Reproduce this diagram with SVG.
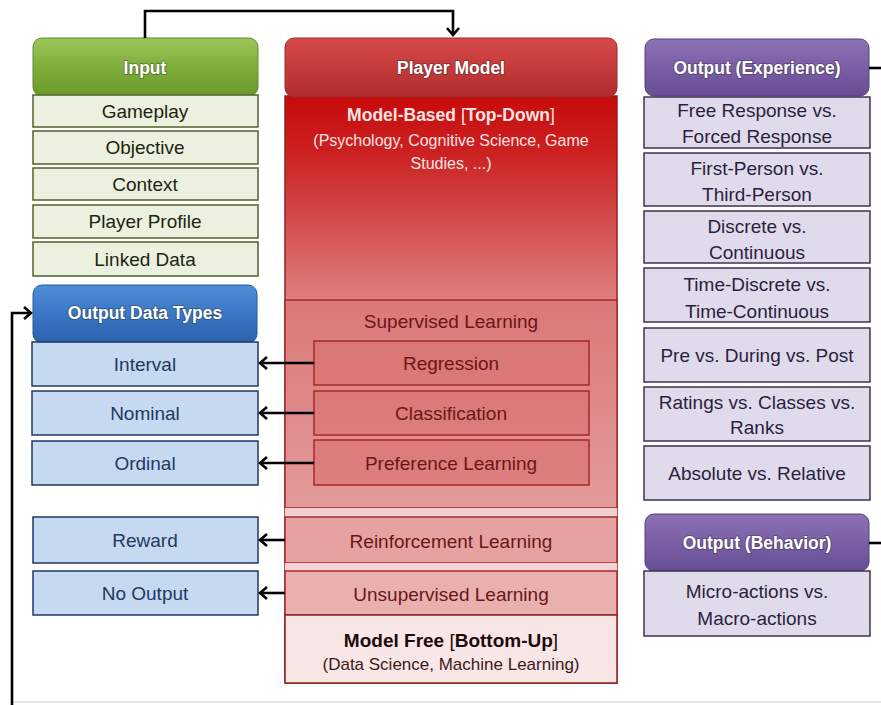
<svg xmlns="http://www.w3.org/2000/svg" width="881" height="705" viewBox="0 0 881 705">
<defs>
<linearGradient id="gGreen" x1="0" y1="0" x2="0" y2="1">
<stop offset="0" stop-color="#9cc65a"/><stop offset="0.5" stop-color="#7fae3c"/><stop offset="1" stop-color="#6a9a2c"/>
</linearGradient>
<linearGradient id="gRed" x1="0" y1="0" x2="0" y2="1">
<stop offset="0" stop-color="#d84a4a"/><stop offset="0.5" stop-color="#c43a3a"/><stop offset="1" stop-color="#b02e2e"/>
</linearGradient>
<linearGradient id="gBlue" x1="0" y1="0" x2="0" y2="1">
<stop offset="0" stop-color="#4f8fd8"/><stop offset="0.5" stop-color="#3a76c4"/><stop offset="1" stop-color="#2b62ad"/>
</linearGradient>
<linearGradient id="gPurple" x1="0" y1="0" x2="0" y2="1">
<stop offset="0" stop-color="#8e72b4"/><stop offset="0.5" stop-color="#7a5ea6"/><stop offset="1" stop-color="#674e94"/>
</linearGradient>
<linearGradient id="gBody" x1="0" y1="0" x2="0" y2="1">
<stop offset="0" stop-color="#c80a0a"/><stop offset="0.1" stop-color="#cc2222"/><stop offset="0.35" stop-color="#df8080"/><stop offset="1" stop-color="#e49090"/>
</linearGradient>
<linearGradient id="gSup" x1="0" y1="0" x2="0" y2="1">
<stop offset="0" stop-color="#da7878"/><stop offset="1" stop-color="#e39a9a"/>
</linearGradient>
<marker id="arr" viewBox="0 0 14 14" refX="11" refY="7" markerWidth="14" markerHeight="14" markerUnits="userSpaceOnUse" orient="auto">
<path d="M4,1 L11,7 L4,13" fill="none" stroke="#000" stroke-width="2.6"/>
</marker>
</defs>
<style>
text{font-family:"Liberation Sans",Arial,sans-serif;font-size:19px;text-anchor:middle}
.hd{font-weight:bold;font-size:17.5px;fill:#fff;stroke:rgba(40,40,40,0.35);stroke-width:2;paint-order:stroke}
.gi{fill:#ebf1de;stroke:#4f6228;stroke-width:1.5}
.gt{fill:#1d2410}
.bi{fill:#c6d9f1;stroke:#1f3864;stroke-width:1.5}
.bt{fill:#1f3864}
.pi{fill:#e0dbeb;stroke:#3f3151;stroke-width:1.5}
.pt{fill:#2a1f3d}
.rb{stroke:#a52a2a;stroke-width:1.5}
.rt{fill:#6b1616}
.wt{fill:#fbe3e3}
.cn{fill:none;stroke:#000;stroke-width:2.6}
</style>

<rect x="12" y="701" width="869" height="2" fill="#e6e6e6"/>

<g id="input">
<rect x="33" y="38" width="225" height="58" rx="9" fill="url(#gGreen)" stroke="#5d8a2a" stroke-width="1"/>
<text class="hd" x="145" y="74">Input</text>
<rect class="gi" x="33" y="95" width="225" height="32"/><text class="gt" x="145" y="118">Gameplay</text>
<rect class="gi" x="33" y="131" width="225" height="33"/><text class="gt" x="145" y="154">Objective</text>
<rect class="gi" x="33" y="168" width="225" height="32"/><text class="gt" x="145" y="191">Context</text>
<rect class="gi" x="33" y="205" width="225" height="33"/><text class="gt" x="145" y="228">Player Profile</text>
<rect class="gi" x="33" y="242" width="225" height="34"/><text class="gt" x="145" y="266">Linked Data</text>
</g>

<g id="output-data-types">
<rect x="33" y="285" width="224" height="58" rx="9" fill="url(#gBlue)" stroke="#245a9e" stroke-width="1"/>
<text class="hd" x="145" y="319">Output Data Types</text>
<rect class="bi" x="32" y="342" width="226" height="44"/><text class="bt" x="145" y="371">Interval</text>
<rect class="bi" x="32" y="391" width="226" height="44"/><text class="bt" x="145" y="420">Nominal</text>
<rect class="bi" x="32" y="441" width="226" height="44"/><text class="bt" x="145" y="470">Ordinal</text>
<rect class="bi" x="33" y="517" width="225" height="46"/><text class="bt" x="145" y="547">Reward</text>
<rect class="bi" x="33" y="571" width="225" height="44"/><text class="bt" x="145" y="600">No Output</text>
</g>

<g id="player-model">
<rect x="285" y="96" width="332" height="587" fill="url(#gBody)" stroke="#8b2323" stroke-width="1.5"/>
<rect x="285" y="38" width="332" height="59" rx="9" fill="url(#gRed)" stroke="#9c2a2a" stroke-width="1"/>
<text class="hd" x="451" y="74">Player Model</text>
<text class="wt" x="451" y="121" style="font-size:17.5px"><tspan font-weight="bold">Model-Based </tspan><tspan>[</tspan><tspan font-weight="bold">Top-Down</tspan><tspan>]</tspan></text>
<text class="wt" x="451" y="146" style="font-size:16px">(Psychology, Cognitive Science, Game</text>
<text class="wt" x="451" y="169" style="font-size:16px">Studies, ...)</text>
<rect class="rb" x="285" y="300" width="332" height="208" fill="url(#gSup)"/>
<text class="rt" x="451" y="328">Supervised Learning</text>
<rect class="rb" x="314" y="341" width="275" height="44" fill="#d87070" fill-opacity="0.6"/><text class="rt" x="451" y="370">Regression</text>
<rect class="rb" x="314" y="391" width="275" height="44" fill="#d87070" fill-opacity="0.6"/><text class="rt" x="451" y="420">Classification</text>
<rect class="rb" x="314" y="440" width="275" height="45" fill="#d87070" fill-opacity="0.6"/><text class="rt" x="451" y="470">Preference Learning</text>
<rect x="285" y="508" width="332" height="9" fill="#f2cfcf"/>
<rect class="rb" x="285" y="517" width="332" height="46" fill="#e6a2a2"/>
<text class="rt" x="451" y="548">Reinforcement Learning</text>
<rect x="285" y="563" width="332" height="8" fill="#f3d3d3"/>
<rect class="rb" x="285" y="571" width="332" height="44" fill="#e9b0b0"/>
<text class="rt" x="451" y="601">Unsupervised Learning</text>
<rect x="285" y="615" width="332" height="68" fill="#f9e6e6" stroke="#8b2323" stroke-width="1.5"/>
<text x="451" y="647" fill="#1e0a0a"><tspan font-weight="bold">Model Free </tspan><tspan>[</tspan><tspan font-weight="bold">Bottom-Up</tspan><tspan>]</tspan></text>
<text x="451" y="670" fill="#3a1a1a" style="font-size:17px">(Data Science, Machine Learning)</text>
</g>

<g id="output-experience">
<rect x="645" y="39" width="224" height="57" rx="9" fill="url(#gPurple)" stroke="#54407a" stroke-width="1"/>
<text class="hd" x="757" y="74">Output (Experience)</text>
<rect class="pi" x="644" y="97" width="226" height="51"/><text class="pt" x="757" y="117">Free Response vs.</text><text class="pt" x="757" y="143">Forced Response</text>
<rect class="pi" x="644" y="153" width="226" height="53"/><text class="pt" x="757" y="175">First-Person vs.</text><text class="pt" x="757" y="201">Third-Person</text>
<rect class="pi" x="644" y="211" width="226" height="52"/><text class="pt" x="757" y="233">Discrete vs.</text><text class="pt" x="757" y="259">Continuous</text>
<rect class="pi" x="644" y="268" width="226" height="54"/><text class="pt" x="757" y="291">Time-Discrete vs.</text><text class="pt" x="757" y="318">Time-Continuous</text>
<rect class="pi" x="644" y="328" width="226" height="54"/><text class="pt" x="757" y="362">Pre vs. During vs. Post</text>
<rect class="pi" x="644" y="387" width="226" height="54"/><text class="pt" x="757" y="409">Ratings vs. Classes vs.</text><text class="pt" x="757" y="434">Ranks</text>
<rect class="pi" x="644" y="446" width="226" height="54"/><text class="pt" x="757" y="480">Absolute vs. Relative</text>
</g>

<g id="output-behavior">
<rect x="645" y="514" width="224" height="57" rx="9" fill="url(#gPurple)" stroke="#54407a" stroke-width="1"/>
<text class="hd" x="757" y="549">Output (Behavior)</text>
<rect class="pi" x="644" y="571" width="226" height="65"/><text class="pt" x="757" y="598">Micro-actions vs.</text><text class="pt" x="757" y="625">Macro-actions</text>
</g>

<g id="connectors">
<path class="cn" d="M145,38 V11 H453 V35" marker-end="url(#arr)"/>
<path class="cn" d="M12,705 V313 H31" marker-end="url(#arr)"/>
<path class="cn" d="M869,68 H881"/>
<path class="cn" d="M869,543 H881"/>
<path class="cn" d="M314,363 H260" marker-end="url(#arr)"/>
<path class="cn" d="M314,413 H260" marker-end="url(#arr)"/>
<path class="cn" d="M314,463 H260" marker-end="url(#arr)"/>
<path class="cn" d="M285,540 H260" marker-end="url(#arr)"/>
<path class="cn" d="M285,593 H260" marker-end="url(#arr)"/>
</g>
</svg>
